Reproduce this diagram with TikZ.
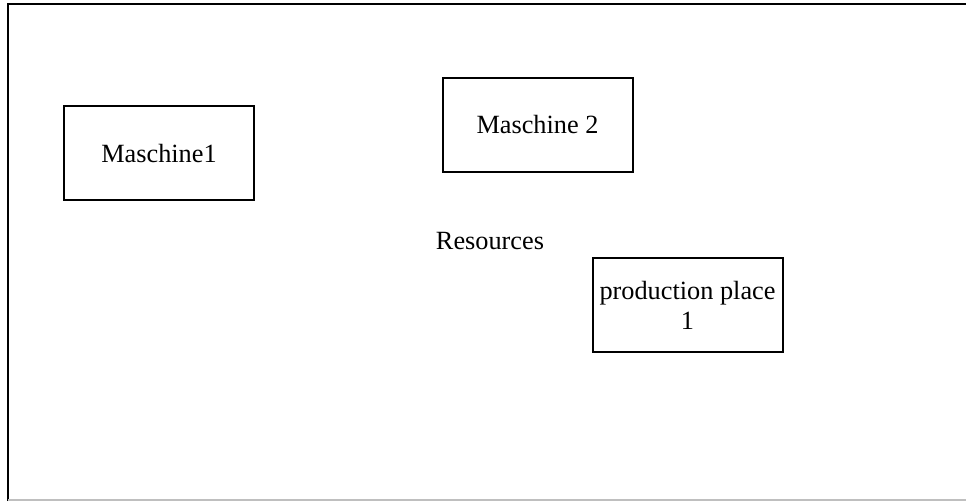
\documentclass[tikz,border=0pt]{standalone}
\usepackage{fontspec}
\setmainfont{Liberation Serif}
\begin{document}
\begin{tikzpicture}[x=1pt,y=-1pt,
  box/.style={draw=black,line width=2pt,minimum width=190pt,minimum height=94pt,inner sep=0pt,align=center,
    font=\fontsize{26.3}{30}\selectfont},
  lbl/.style={inner sep=0pt,font=\fontsize{26.3}{30}\selectfont}]
\useasboundingbox (0,0) rectangle (966,501);
\fill[white] (0,0) rectangle (966,501);
\draw[line width=2.5pt] (8,501) -- (8,4) -- (966,4);
\draw[line width=1.2pt,black!25] (8,500) -- (966,500);
\node[box] (m1) at (159,153) {Maschine1};
\node[box] (m2) at (537.5,124.5) {Maschine 2};
\node[box] (pp) at (687.5,305) {production place\\1};
\node[lbl] (res) at (490,241) {Resources};
\end{tikzpicture}
\end{document}
